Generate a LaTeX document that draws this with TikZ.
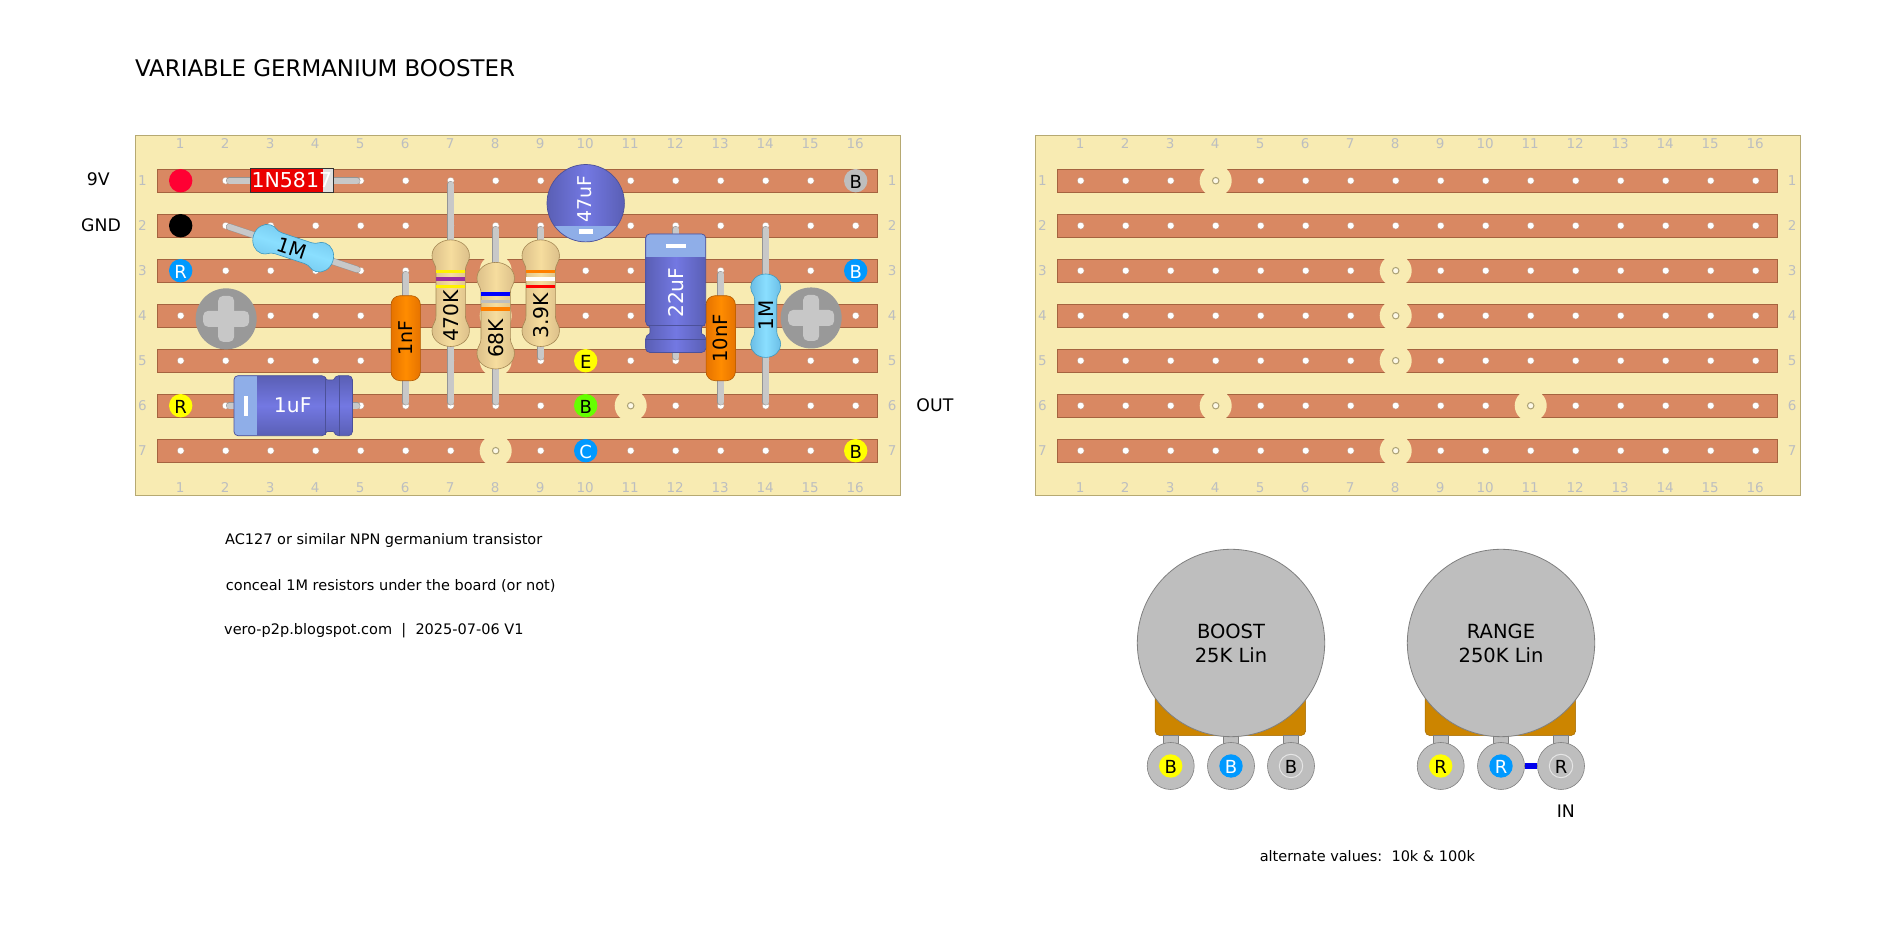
\documentclass[tikz,border=0pt]{standalone}
\usepackage{fontspec}
\setmainfont{DejaVu Sans}
\definecolor{boardc}{HTML}{F8EBB2}
\definecolor{boardl}{HTML}{B6A972}
\definecolor{stripc}{HTML}{D98862}
\definecolor{stripl}{HTML}{A5633F}
\definecolor{numc}{HTML}{BCBEC0}
\definecolor{leadc}{HTML}{C8C8C8}
\definecolor{potc}{HTML}{BEBEBE}
\definecolor{potbase}{HTML}{CC8500}
\definecolor{dotblue}{HTML}{0099FF}
\definecolor{dotyellow}{HTML}{FFFF00}
\definecolor{dotgreen}{HTML}{66FF00}
\definecolor{dotred}{HTML}{FF0033}
\definecolor{bandpurple}{HTML}{9B30A0}
\definecolor{capband}{HTML}{8FAEE8}
\tikzset{
  board/.style={fill=boardc,draw=boardl,line width=1pt},
  strip/.style={fill=stripc,draw=stripl,line width=.8pt},
  cut/.style={circle,fill=boardc,minimum size=32pt,inner sep=0pt},
  hole/.style={circle,fill=white,draw=stripl!70,line width=.4pt,minimum size=7pt,inner sep=0pt},
  cuthole/.style={circle,fill=boardc!30,draw=boardl!80!gray,line width=1pt,minimum size=6.5pt,inner sep=0pt},
  num/.style={text=numc,inner sep=0pt,text height=9.8pt,text depth=0pt,font=\fontsize{13.5}{13.5}\selectfont},
  lbl/.style={inner sep=0pt,font=\fontsize{17.3}{17.3}\selectfont},
  note/.style={inner sep=0pt,anchor=west,font=\fontsize{14.5}{14.5}\selectfont},
  term/.style={circle,fill=#1,minimum size=23.4pt,inner sep=0pt,text height=15.5pt,text depth=0pt,font=\fontsize{18}{18}\selectfont},
  lead/.style={draw=black!42,double=leadc,double distance=5.8pt,line width=.5pt,line cap=round},
  comptext/.style={inner sep=0pt,font=\fontsize{#1}{#1}\selectfont},
  tanbody/.style={draw=black!25!brown!45!boardl,line width=.6pt,left color=tanl,right color=tanl,middle color=tanm},
  bluebody/.style={draw=blue!30!cyan!50!gray,line width=.6pt,left color=bluel,right color=bluel,middle color=bluem},
  orangecap/.style={rectangle,rounded corners=9pt,minimum width=29.3pt,minimum height=85pt,inner sep=0pt,
    draw=orange!70!black,line width=.6pt,left color=oranl,right color=oranl,middle color=oranm},
  capline/.style={draw=capl,line width=.7pt},
  capmark/.style={draw=white,line width=3.4pt},
  potring/.style={circle,fill=potc,draw=gray,line width=.8pt,minimum size=187.4pt,inner sep=0pt,align=center,
    font=\fontsize{19.5}{24}\selectfont},
  lugring/.style={circle,fill=potc,draw=gray,line width=.6pt,minimum size=47pt,inner sep=0pt},
  screw/.style={circle,fill=black!40,minimum size=61pt,inner sep=0pt},
  jumper/.style={draw=blue!93!black,line width=6pt},
}
\definecolor{tanl}{HTML}{DCC08A}
\definecolor{tanm}{HTML}{F6DD9E}
\definecolor{bluel}{HTML}{6CBEE6}
\definecolor{bluem}{HTML}{8ADFFF}
\definecolor{oranl}{HTML}{E67300}
\definecolor{oranm}{HTML}{FF8C00}
\definecolor{capl}{HTML}{4C5199}
\definecolor{capd}{HTML}{5A5FB5}
\definecolor{capm}{HTML}{7378E2}

% dog bone outline: half length, bulb and waist half width, bulb half height
\newcommand{\bonepath}[4]{
  (0pt,#1pt) .. controls ({.55*#2pt},#1pt) and (#2pt,{#1pt-.45*#4pt}) .. (#2pt,{#1pt-#4pt})
  .. controls (#2pt,{#1pt-1.5*#4pt}) and (#3pt,{#1pt-1.5*#4pt}) .. (#3pt,{#1pt-2*#4pt})
  -- (#3pt,{-#1pt+2*#4pt})
  .. controls (#3pt,{-#1pt+1.5*#4pt}) and (#2pt,{-#1pt+1.5*#4pt}) .. (#2pt,{-#1pt+#4pt})
  .. controls (#2pt,{-#1pt+.45*#4pt}) and ({.55*#2pt},-#1pt) .. (0pt,-#1pt)
  .. controls ({-.55*#2pt},-#1pt) and (-#2pt,{-#1pt+.45*#4pt}) .. (-#2pt,{-#1pt+#4pt})
  .. controls (-#2pt,{-#1pt+1.5*#4pt}) and (-#3pt,{-#1pt+1.5*#4pt}) .. (-#3pt,{-#1pt+2*#4pt})
  -- (-#3pt,{#1pt-2*#4pt})
  .. controls (-#3pt,{#1pt-1.5*#4pt}) and (-#2pt,{#1pt-1.5*#4pt}) .. (-#2pt,{#1pt-#4pt})
  .. controls (-#2pt,{#1pt-.45*#4pt}) and ({-.55*#2pt},#1pt) .. (0pt,#1pt) -- cycle}
\newcommand{\tanres}[7]{
  \begin{scope}[shift={(#2,#3)}]
    \path[tanbody] \bonepath{53.3}{18.7}{14.7}{15.5};
    \fill[#4] (-14.7pt,19.9pt) rectangle (14.7pt,23.4pt);
    \fill[#5] (-14.7pt,12.4pt) rectangle (14.7pt,15.9pt);
    \fill[#6] (-14.7pt,5pt) rectangle (14.7pt,8.5pt);
    \node[comptext=20.3,rotate=90] (#1) at (0pt,-22.7pt) {#7};
  \end{scope}}
\newcommand{\ecappath}{
  (-59.2pt,-30pt) -- (32.5pt,-30pt) .. controls (33.5pt,-25.6pt) and (40.5pt,-25.6pt) .. (41.5pt,-30pt)
  -- (59.2pt,-30pt) -- (59.2pt,30pt) -- (41.5pt,30pt) .. controls (40.5pt,25.6pt) and (33.5pt,25.6pt) .. (32.5pt,30pt)
  -- (-59.2pt,30pt) -- cycle}
% name, column, row, rotation, shading, text rotation, value
\newcommand{\ecap}[7]{
  \begin{scope}[shift={(#2,#3)},rotate=#4]
    \path[rounded corners=4pt,#5] \ecappath;
    \begin{scope}
      \clip[rounded corners=4pt] \ecappath;
      \fill[capband] (-60pt,-31pt) rectangle (-36.5pt,31pt);
    \end{scope}
    \draw[capline,rounded corners=4pt] \ecappath;
    \draw[capline] (32.4pt,-29pt) -- (32.4pt,29pt) (45.8pt,-30pt) -- (45.8pt,30pt);
    \draw[capmark] (-47.2pt,-10pt) -- (-47.2pt,10pt);
    \node[comptext=20.3,text=white,rotate=#6] (#1) at (-.5pt,0pt) {#7};
  \end{scope}}

\begin{document}
\begin{tikzpicture}[x=45pt,y=-45pt]
\useasboundingbox (-3.0156,-3.0156) rectangle (38.9622,17.9622);

% both boards
\foreach \bx in {0,20} {
  \begin{scope}[shift={(\bx,0)}]
    \path[board] (0,0) rectangle (17,8);
    \foreach \r in {1,...,7} {
      \path[strip] (.485,\r-.25) rectangle (16.485,\r+.25);
      \node[num] (rl\bx-\r) at (.147,\r) {\r};
      \node[num] (rr\bx-\r) at (16.81,\r) {\r};
      \foreach \c in {1,...,16}
        \node[hole] (h\bx-\c-\r) at (\c,\r) {};
    }
    \foreach \c in {1,...,16} {
      \node[num] (ct\bx-\c) at (\c-.012,.184) {\c};
      \node[num] (cb\bx-\c) at (\c-.012,7.81) {\c};
    }
    \foreach \c/\r in {4/1,4/6,8/3,8/4,8/5,8/7,11/6} {
      \node[cut] (cut\bx-\c-\r) at (\c,\r) {};
      \node[cuthole] at (cut\bx-\c-\r) {};
    }
  \end{scope}
}

% terminals
\node[term=dotred] (t9v) at (1,1) {};
\node[term=black] (tgnd) at (1,2) {};
\node[term=dotblue,text=white] (tr3) at (1,3) {R};
\node[term=dotyellow] (tr6) at (1,6) {R};
\node[term=potc] (tb1) at (16,1) {B};
\node[term=dotblue,text=white] (tb3) at (16,3) {B};
\node[term=dotyellow] (te) at (10,5) {E};
\node[term=dotgreen] (tb) at (10,6) {B};
\node[term=dotblue,text=white] (tc) at (10,7) {C};
\node[term=dotyellow] (tb7) at (16,7) {B};

% mounting screws
\foreach \sx/\sy/\sn in {2.01/4.07/sa,15.01/4.05/sb} {
  \node[screw] (\sn) at (\sx,\sy) {};
  \fill[black!22,rounded corners=5pt] ([xshift=-23pt,yshift=-8pt]\sn.center) rectangle ([xshift=23pt,yshift=8pt]\sn.center);
  \fill[black!22,rounded corners=5pt] ([xshift=-8pt,yshift=-23pt]\sn.center) rectangle ([xshift=8pt,yshift=23pt]\sn.center);
}

% leads
\draw[lead] (h0-2-1) -- (h0-5-1);
\draw[lead] (h0-2-2) -- (h0-5-3);
\draw[lead] (h0-7-1) -- (h0-7-6);
\draw[lead] (h0-8-2) -- (h0-8-6);
\draw[lead] (h0-9-2) -- (h0-9-5);
\draw[lead] (h0-6-3) -- (h0-6-6);
\draw[lead] (h0-13-3) -- (h0-13-6);
\draw[lead] (h0-12-2) -- (h0-12-5);
\draw[lead] (h0-14-2) -- (h0-14-6);
\draw[lead] (h0-2-6) -- (h0-5-6);

% diode
\node[fill=red!92!black,minimum width=83pt,minimum height=23.4pt,inner sep=0pt] (d1) at (3.47,.99) {};
\fill[black!12] (d1.south east) rectangle ++(-11pt,23.4pt);
\draw[black!80,line width=.8pt] (d1.south west) rectangle (d1.north east);
\node[comptext=20.5,text=white] (d1t) at (d1) {1N5817};

% 1M resistors
\begin{scope}[shift={(3.5,1.5+1)},rotate=-108.4]
  \path[bluebody,shading angle=-18.4] \bonepath{41.7}{15}{11}{13};
\end{scope}
\node[comptext=20,rotate=-18.4] (r1) at (3.47,2.5) {1M};
\begin{scope}[shift={(14,4)}]
  \path[bluebody] \bonepath{41.7}{15}{11}{13};
\end{scope}
\node[comptext=20,rotate=90] (r2) at (14,4) {1M};

% tan resistors
\tanres{r470}{7}{3.5}{yellow}{bandpurple}{yellow}{470K}
\tanres{r68}{8}{4}{blue}{potc}{orange}{68K}
\tanres{r39}{9}{3.5}{orange}{white}{red}{3.9K}

% film caps
\node[orangecap] (c1) at (6,4.5) {};
\node[comptext=19,rotate=90] (c1t) at (c1) {1nF};
\node[orangecap] (c2) at (13,4.5) {};
\node[comptext=19.6,rotate=90] (c2t) at (c2) {10nF};

% electrolytics
\ecap{c1u}{3.5}{6}{0}{top color=capd,bottom color=capd,middle color=capm}{0}{1uF}
\ecap{c22}{12}{3.5}{-90}{left color=capd,right color=capd,middle color=capm}{90}{22uF}
\node[circle,minimum size=77.4pt,inner sep=0pt,left color=capd,right color=capd,middle color=capm] (c47) at (10,1.5) {};
\begin{scope}
  \clip (c47) circle (38.7pt);
  \fill[capband] ([xshift=-40pt,yshift=-23pt]c47.center) rectangle ([xshift=40pt,yshift=-40pt]c47.center);
\end{scope}
\draw[capline] (c47) circle (38.7pt);
\fill[white] ([xshift=-7pt,yshift=-25.5pt]c47.center) rectangle ([xshift=7pt,yshift=-31pt]c47.center);
\node[comptext=19,text=white,rotate=90] (c47t) at (9.98,1.41) {47uF};

% texts
\node[inner sep=0pt,anchor=west,font=\fontsize{22.9}{22.9}\selectfont] (title) at (-.02,-1.5) {VARIABLE GERMANIUM BOOSTER};
\node[lbl] (l9v) at (-.83,.97) {9V};
\node[lbl] (lgnd) at (-.771,2) {GND};
\node[lbl] (lout) at (17.76,6) {OUT};
\node[lbl] (lin) at (31.78,15.02) {IN};
\node[note] (n1) at (1.984,9) {AC127 or similar NPN germanium transistor};
\node[note] (n2) at (2,10) {conceal 1M resistors under the board (or not)};
\node[note] (n3) at (1.962,11) {vero-p2p.blogspot.com\ \ |\ \ 2025-07-06 V1};
\node[note,anchor=center] (n4) at (27.37,16) {alternate values:\ \ 10k \& 100k};

% pots
\foreach \pshift/\ptop/\pval/\plet in {0/BOOST/25K Lin/B,6/RANGE/250K Lin/R} {
  \begin{scope}[shift={(24.34+\pshift,11.273)}]
    \filldraw[fill=potbase,draw=potbase!80!black,line width=.5pt,rounded corners=5pt]
      (-76pt,-30pt) rectangle (74.7pt,-92.7pt);
    \foreach \i/\lx/\lc/\tc/\ld in {1/-60.3/dotyellow/black/none,2/0/dotblue/white/none,3/60/potc/black/black!10} {
      \filldraw[fill=potc,draw=gray,line width=.5pt] (\lx pt-7.6pt,-92.7pt) rectangle (\lx pt+7.6pt,-102pt);
      \node[lugring] (lug\plet\i) at (\lx pt,-123pt) {};
      \node[term=\lc,text=\tc,draw=\ld,line width=1pt] (dot\plet\i) at (lug\plet\i) {\plet};
    }
    \node[potring] (pot\plet) at (0pt,0pt) {\ptop\\\pval};
  \end{scope}
}
\draw[jumper] (lugR2) -- (lugR3);
\end{tikzpicture}
\end{document}
